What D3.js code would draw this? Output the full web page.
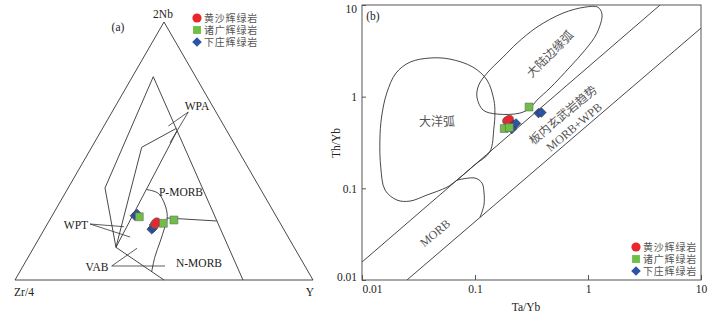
<!DOCTYPE html>
<html>
<head>
<meta charset="utf-8">
<script src="https://cdn.jsdelivr.net/npm/d3@7"></script>
<style>
body { margin: 0; background: #fff; }
text { font-family: "Liberation Serif", "Noto Sans CJK SC", serif; }
</style>
</head>
<body>
<script>
var w = 722, h = 315;

// ---- data: Nb-Zr-Y ternary, points as [2Nb, Zr/4, Y]
var triRed = [[0.217, 0.4216, 0.3614], [0.2236, 0.4127, 0.3637]];
var triGreen = [[0.245, 0.4604, 0.2946], [0.2198, 0.3923, 0.3879], [0.2326, 0.3503, 0.4171]];
var triBlue = [[0.249, 0.473, 0.278], [0.256, 0.4625, 0.2815], [0.1965, 0.443, 0.3604],
               [0.2027, 0.4346, 0.3627], [0.2132, 0.427, 0.3597]];

// ---- data: Th/Yb vs Ta/Yb
var taRed = [0.192, 0.2015], thRed = [0.542, 0.562];
var taGreen = [0.301, 0.1815, 0.2015], thGreen = [0.771, 0.449, 0.46];
var taBlue = [0.365, 0.387, 0.218, 0.231, 0.212], thBlue = [0.662, 0.671, 0.49, 0.51, 0.444];

var legendNames = ["黄沙辉绿岩", "诸广辉绿岩", "下庄辉绿岩"];
var logTicks = [0.01, 0.1, 1, 10];

// ---- ternary field boundaries [2Nb, Zr/4, Y]
var triOuter = [[1, 0, 0], [0, 1, 0], [0, 0, 1], [1, 0, 0]];
var triInner = [[0, 0.235, 0.765], [0.788, 0.142, 0.07], [0.3566, 0.5197, 0.1237], [0.1267, 0.5978, 0.2755], [0, 0.5, 0.5]];
var triWpaSplit = [[0.588, 0.164, 0.248], [0.5143, 0.3177, 0.168], [0.1267, 0.5978, 0.2755]];
var triWptLine = [[0.1267, 0.5978, 0.2755], [0.5775, 0.1675, 0.255]];
var triPmorb = [[0.3508, 0.3834, 0.2658], [0.336, 0.3512, 0.3128], [0.2907, 0.3513, 0.358], [0.2453, 0.3664, 0.3883],
                [0.2016, 0.3974, 0.401], [0.1473, 0.4397, 0.413], [0.0903, 0.4852, 0.4245], [0.033, 0.5247, 0.4423]];
var triPmorbBase = [[0.2403, 0.3697, 0.39], [0.2287, 0.2083, 0.563]];
var triLeaders = [
  [[0.6512, 0.093, 0.256], [0.5969, 0.187, 0.2161]],
  [[0.6512, 0.093, 0.256], [0.5322, 0.2138, 0.254]],
  [[0.217, 0.6397, 0.1433], [0.2066, 0.531, 0.2624]],
  [[0.217, 0.6397, 0.1433], [0.1667, 0.5306, 0.3027]],
  [[0.0543, 0.6484, 0.2973], [0.1229, 0.529, 0.348]],
  [[0.0543, 0.6484, 0.2973], [0.0543, 0.4695, 0.4762]]
];

// ---- Th/Yb - Ta/Yb fields [Ta/Yb, Th/Yb]
var lineA = [[0.01, 0.0157], [4.34, 10]];
var lineB = [[0.025, 0.01], [10, 5.6]];
var oceanicArc = [[0.0692, 0.1228], [0.0565, 0.103], [0.0376, 0.0846], [0.0266, 0.0726], [0.0204, 0.0745], [0.016, 0.0957],
                  [0.01465, 0.1706], [0.0144, 0.336], [0.0149, 0.6], [0.01656, 1.094], [0.02, 1.81], [0.0266, 2.38],
                  [0.04, 2.64], [0.06, 2.57], [0.096, 2.1], [0.1276, 1.52], [0.147, 0.918], [0.15, 0.662],
                  [0.147, 0.455], [0.135, 0.249], [0.1, 0.1815]];
var contArc = [[0.307, 0.752], [0.25, 0.662], [0.157, 0.646], [0.118, 0.714], [0.104, 0.99], [0.108, 1.34], [0.128, 1.81],
               [0.177, 2.7], [0.236, 3.84], [0.354, 5.74], [0.601, 8.16], [0.94, 9.48], [1.22, 9.48], [1.33, 7.96],
               [1.2, 4.94], [0.94, 3.22], [0.69, 2.1], [0.461, 1.24], [0.354, 0.918]];
var morbCap = [[0.0692, 0.1228], [0.1, 0.1294], [0.1153, 0.1143], [0.12, 0.0912], [0.12, 0.0658], [0.1106, 0.0481]];

var cRed = "#e8262b", cGreen = "#6fbf45", cBlue = "#2d53a6", lineCol = "#333";

var svg = d3.select("body").append("svg").attr("width", w).attr("height", h);

// ================= (a) ternary =================
var tx = d3.scaleLinear().domain([0, 1]).range([15, 313]);
var ty = d3.scaleLinear().domain([0, 1]).range([280, 22]);
function tern(p) {
  var s = p[0] + p[1] + p[2], nb = p[0] / s, yv = p[2] / s;
  return [tx(yv + nb / 2), ty(nb)];
}
var tLine = d3.line().x(function (p) { return tern(p)[0] }).y(function (p) { return tern(p)[1] });
var tCurve = d3.line().x(function (p) { return tern(p)[0] }).y(function (p) { return tern(p)[1] }).curve(d3.curveCatmullRom);

var ga = svg.append("g");
[triOuter, triInner, triWpaSplit, triWptLine, triPmorbBase].forEach(function (d) {
  ga.append("path").attr("d", tLine(d)).attr("fill", "none").attr("stroke", lineCol).attr("stroke-width", 0.9);
});
ga.append("path").attr("d", tCurve(triPmorb)).attr("fill", "none").attr("stroke", lineCol).attr("stroke-width", 0.9);
triLeaders.forEach(function (d) {
  ga.append("path").attr("d", tLine(d)).attr("fill", "none").attr("stroke", lineCol).attr("stroke-width", 0.8);
});

var tLabels = [["2Nb", 163, 18], ["(a)", 118, 31], ["Zr/4", 24, 296], ["Y", 310, 296], ["WPA", 197, 110],
               ["WPT", 76, 229], ["VAB", 97, 271], ["P-MORB", 181, 196], ["N-MORB", 199, 267]];
ga.selectAll(".tl").data(tLabels).enter().append("text")
  .attr("x", function (d) { return d[1] }).attr("y", function (d) { return d[2] })
  .attr("text-anchor", "middle").attr("font-size", 11.5).attr("fill", "#222")
  .text(function (d) { return d[0] });

var diamond = d3.symbol().type(d3.symbolSquare).size(46);
var square = d3.symbol().type(d3.symbolSquare).size(62);

function drawTri(pts, kind, col) {
  pts.forEach(function (p) {
    var q = tern(p);
    if (kind === "c") ga.append("circle").attr("cx", q[0]).attr("cy", q[1]).attr("r", 4.5).attr("fill", col).attr("stroke", "#666").attr("stroke-width", 0.6);
    else if (kind === "s") ga.append("path").attr("d", square()).attr("transform", "translate(" + q[0] + "," + q[1] + ")").attr("fill", col).attr("stroke", "#666").attr("stroke-width", 0.6);
    else ga.append("path").attr("d", diamond()).attr("transform", "translate(" + q[0] + "," + q[1] + ") rotate(45)").attr("fill", col).attr("stroke", "#333").attr("stroke-width", 0.6);
  });
}
drawTri(triBlue, "d", cBlue);
drawTri(triRed, "c", cRed);
drawTri(triGreen, "s", cGreen);

function legend(g, x0, y0, step) {
  var kinds = ["c", "s", "d"], cols = [cRed, cGreen, cBlue];
  legendNames.forEach(function (name, i) {
    var yy = y0 + i * step;
    if (kinds[i] === "c") g.append("circle").attr("cx", x0).attr("cy", yy).attr("r", 4.6).attr("fill", cols[i]);
    else if (kinds[i] === "s") g.append("path").attr("d", square()).attr("transform", "translate(" + x0 + "," + yy + ")").attr("fill", cols[i]);
    else g.append("path").attr("d", diamond()).attr("transform", "translate(" + x0 + "," + yy + ") rotate(45)").attr("fill", cols[i]);
    g.append("text").attr("x", x0 + 7).attr("y", yy + 3.6).attr("font-size", 10).attr("fill", "#555")
      .attr("letter-spacing", 0.8).style("font-family", "'Noto Sans CJK SC'").text(name);
  });
}
legend(ga, 197, 18, 12);

// ================= (b) Th/Yb vs Ta/Yb =================
var x = d3.scaleLog().domain([0.01, 10]).range([362, 701]);
var y = d3.scaleLog().domain([0.01, 10]).range([280, 5]);

var gb = svg.append("g");
gb.append("clipPath").attr("id", "clipb").append("rect").attr("x", 362).attr("y", 5).attr("width", 339).attr("height", 275);

var ln = d3.line().x(function (d) { return x(d[0]) }).y(function (d) { return y(d[1]) });
var fields = gb.append("g").attr("clip-path", "url(#clipb)").attr("fill", "none").attr("stroke", lineCol).attr("stroke-width", 0.9);
fields.append("path").attr("d", ln(lineA));
fields.append("path").attr("d", ln(lineB));
fields.append("path").attr("d", ln.curve(d3.curveCatmullRomClosed)(oceanicArc));
fields.append("path").attr("d", ln.curve(d3.curveCatmullRomClosed)(contArc));
fields.append("path").attr("d", ln.curve(d3.curveCatmullRom)(morbCap));

// axes
var xAxis = gb.append("g").attr("transform", "translate(0,280)")
  .call(d3.axisBottom(x).tickValues(logTicks).tickFormat(d3.format("~g")).tickSizeInner(-5).tickSizeOuter(0).tickPadding(5));
var yAxis = gb.append("g").attr("transform", "translate(362,0)")
  .call(d3.axisLeft(y).tickValues(logTicks).tickFormat(d3.format("~g")).tickSizeInner(-4).tickSizeOuter(0).tickPadding(5));
[xAxis, yAxis].forEach(function (a) {
  a.select(".domain").remove();
  a.selectAll("line").attr("stroke", "#555");
  a.selectAll("text").attr("font-size", 11.5).attr("fill", "#222").style("font-family", "'Liberation Serif'");
});
xAxis.selectAll("text").filter(function (d) { return d === 0.01 }).attr("dx", 10);
yAxis.selectAll("text").filter(function (d) { return d === 10 }).attr("transform", "translate(0,4)");
yAxis.selectAll("text").filter(function (d) { return d === 0.01 }).attr("transform", "translate(0,-3)");

gb.append("rect").attr("x", 362).attr("y", 5).attr("width", 339).attr("height", 275)
  .attr("fill", "none").attr("stroke", "#555").attr("stroke-width", 1);

gb.append("text").attr("x", 526).attr("y", 311).attr("text-anchor", "middle").attr("font-size", 11.5).attr("fill", "#222").text("Ta/Yb");
gb.append("text").attr("transform", "translate(340,143) rotate(-90)").attr("text-anchor", "middle").attr("font-size", 11.5).attr("fill", "#222").text("Th/Yb");
gb.append("text").attr("x", 373).attr("y", 20).attr("text-anchor", "middle").attr("font-size", 11.5).attr("fill", "#222").text("(b)");

var fLabels = [["大洋弧", 437, 122, 0], ["大陆边缘弧", 550, 54, -45], ["板内玄武岩趋势", 563, 115, -40],
               ["MORB+WPB", 574, 127, -40], ["MORB", 435, 233, -40]];
gb.selectAll(".fl").data(fLabels).enter().append("text")
  .attr("transform", function (d) { return "translate(" + d[1] + "," + d[2] + ") rotate(" + d[3] + ")" })
  .attr("text-anchor", "middle").attr("dy", "0.35em").attr("font-size", 12).attr("fill", "#555")
  .text(function (d) { return d[0] });

function drawXY(xs, ys, kind, col) {
  xs.forEach(function (xv, i) {
    var px = x(xv), py = y(ys[i]);
    if (kind === "c") gb.append("circle").attr("cx", px).attr("cy", py).attr("r", 4.5).attr("fill", col).attr("stroke", "#666").attr("stroke-width", 0.6);
    else if (kind === "s") gb.append("path").attr("d", square()).attr("transform", "translate(" + px + "," + py + ")").attr("fill", col).attr("stroke", "#666").attr("stroke-width", 0.6);
    else gb.append("path").attr("d", diamond()).attr("transform", "translate(" + px + "," + py + ") rotate(45)").attr("fill", col).attr("stroke", "#333").attr("stroke-width", 0.6);
  });
}
drawXY(taRed, thRed, "c", cRed);
drawXY(taBlue, thBlue, "d", cBlue);
drawXY(taGreen, thGreen, "s", cGreen);

legend(gb, 636, 247, 12);
</script>
</body>
</html>
